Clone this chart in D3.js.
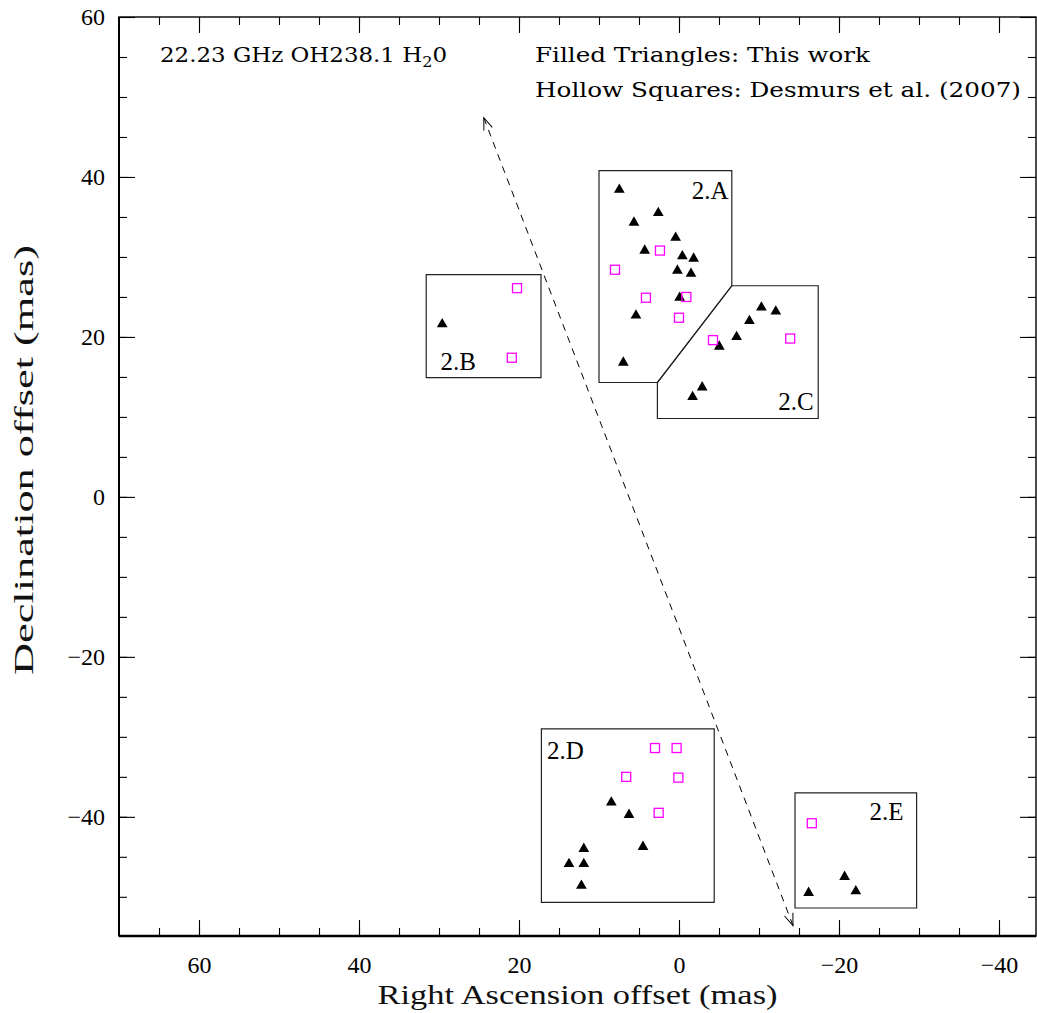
<!DOCTYPE html>
<html>
<head>
<meta charset="utf-8">
<script src="https://cdn.jsdelivr.net/npm/d3@7/dist/d3.min.js"></script>
<style>
  body { margin: 0; background: #fff; }
  svg { display: block; }
  .serif { font-family: "Liberation Serif", "Times New Roman", Times, serif; }
  .note { font-family: "DejaVu Serif", serif; }
</style>
</head>
<body>
<div id="chart"></div>
<script>
// maser spots, this work (filled triangles)
var thisWorkRA  = [7.46, 2.59, 5.63, 0.42, 4.29, -0.42, -1.83, 0.2, -1.5, -0.08, 5.38, 6.96,
                   -10.3, -12.1, -8.8, -7.2, -5.04, -2.9, -1.7,
                   29.6,
                   8.46, 6.25, 4.5, 11.9, 13.75, 11.9, 12.2,
                   -20.7, -16.2, -22.1];
var thisWorkDec = [38.4, 35.5, 34.3, 32.4, 30.8, 30.1, 29.8, 28.3, 27.9, 24.9, 22.7, 16.8,
                   23.7, 23.2, 22.0, 20.0, 18.8, 13.7, 12.5,
                   21.6,
                   -38.2, -39.75, -43.75, -44.0, -45.9, -45.9, -48.6,
                   -47.5, -49.5, -49.3];
// Desmurs et al. (2007) spots (hollow squares)
var desmursRA  = [2.38, 8.0, 4.13, -0.92, 0.0, -4.25, -13.9,
                  20.25, 20.9,
                  3.0, 0.3, 6.6, 0.08, 2.54,
                  -16.6];
var desmursDec = [30.8, 28.4, 24.9, 25.0, 22.4, 19.6, 19.8,
                  26.1, 17.4,
                  -31.4, -31.4, -35.0, -35.1, -39.5,
                  -40.8];

// region outlines (RA, Dec)
var regionNames = ["2.A", "2.B", "2.C", "2.D", "2.E"];
var regionShapes = [
  [[10, 40.8], [-6.6, 40.8], [-6.6, 26.4], [2.7, 14.3], [10, 14.3]],
  [[31.6, 27.8], [17.25, 27.8], [17.25, 14.9], [31.6, 14.9]],
  [[-6.6, 26.4], [-17.4, 26.4], [-17.4, 9.8], [2.7, 9.8], [2.7, 14.3]],
  [[17.2, -29.0], [-4.4, -29.0], [-4.4, -50.7], [17.2, -50.7]],
  [[-14.5, -37.0], [-29.7, -37.0], [-29.7, -51.4], [-14.5, -51.4]]
];
var regionLabelPos = [[-1.6, 37.2], [29.8, 15.9], [-12.4, 10.9], [16.5, -32.8], [-23.8, -40.4]];

// dashed double arrow (RA, Dec)
var arrowRA  = [24.4, -14.25];
var arrowDec = [47.4, -53.6];

var xMajor = [60, 40, 20, 0, -20, -40];
var yMajor = [60, 40, 20, 0, -20, -40];
var xMinor = d3.range(65, -45, -5);
var yMinor = d3.range(55, -55, -5);

var width = 1037, height = 1013;
var mLeft = 119, mRight = 1036, mTop = 17, mBottom = 936;

var svg = d3.select("#chart").append("svg")
  .attr("width", width)
  .attr("height", height);

var x = d3.scaleLinear().domain([70, -44.625]).range([mLeft, mRight]);
var y = d3.scaleLinear().domain([-54.9, 60]).range([mBottom, mTop]);

var fmt = function(d){ return d < 0 ? "\u2212" + Math.abs(d) : String(d); };

function addAxis(axis, tx, ty) {
  var g = svg.append("g").attr("transform", "translate(" + tx + "," + ty + ")").call(axis);
  g.select(".domain").remove();
  g.attr("font-family", null).attr("font-size", null);
  g.selectAll(".tick line").attr("stroke", "#000").attr("stroke-width", 1.1);
  return g;
}
// minor ticks on all sides
addAxis(d3.axisBottom(x).tickValues(xMinor).tickSize(-8).tickFormat(""), 0, mBottom);
addAxis(d3.axisTop(x).tickValues(xMinor).tickSize(-8).tickFormat(""), 0, mTop);
addAxis(d3.axisLeft(y).tickValues(yMinor).tickSize(-8).tickFormat(""), mLeft, 0);
addAxis(d3.axisRight(y).tickValues(yMinor).tickSize(-8).tickFormat(""), mRight, 0);

// major ticks
var gx = addAxis(d3.axisBottom(x).tickValues(xMajor).tickSize(-16).tickPadding(20).tickFormat(fmt), 0, mBottom);
addAxis(d3.axisTop(x).tickValues(xMajor).tickSize(-16).tickFormat(""), 0, mTop);
var gy = addAxis(d3.axisLeft(y).tickValues(yMajor).tickSize(-16).tickPadding(14).tickFormat(fmt), mLeft, 0);
addAxis(d3.axisRight(y).tickValues(yMajor).tickSize(-16).tickFormat(""), mRight, 0);

gx.selectAll(".tick text").attr("class", "serif").attr("font-size", 24).attr("fill", "#000");
gy.selectAll(".tick text").attr("class", "serif").attr("font-size", 24).attr("fill", "#000");

// frame
svg.append("rect")
  .attr("x", mLeft).attr("y", mTop)
  .attr("width", mRight - mLeft).attr("height", mBottom - mTop)
  .attr("fill", "none").attr("stroke", "#000").attr("stroke-width", 1.4);
svg.append("line")
  .attr("x1", mLeft).attr("x2", mRight).attr("y1", mBottom).attr("y2", mBottom)
  .attr("stroke", "#000").attr("stroke-width", 2.6);
svg.append("line")
  .attr("x1", mLeft).attr("x2", mLeft).attr("y1", mTop).attr("y2", mBottom)
  .attr("stroke", "#000").attr("stroke-width", 2);

// axis titles (tall, narrow lettering)
svg.append("text")
  .attr("class", "serif")
  .attr("x", (mLeft + mRight) / 2).attr("y", 1004)
  .attr("text-anchor", "middle")
  .attr("font-size", 27)
  .attr("fill", "#111")
  .attr("textLength", 400).attr("lengthAdjust", "spacingAndGlyphs")
  .text("Right Ascension offset (mas)");
svg.append("text")
  .attr("class", "serif")
  .attr("transform", "translate(33,460) rotate(-90)")
  .attr("text-anchor", "middle")
  .attr("font-size", 27)
  .attr("fill", "#111")
  .attr("textLength", 430).attr("lengthAdjust", "spacingAndGlyphs")
  .text("Declination offset (mas)");

// region outlines
var line = d3.line().x(function(d){ return x(d[0]); }).y(function(d){ return y(d[1]); });
svg.selectAll(".region")
  .data(regionShapes)
  .enter().append("path")
  .attr("class", "region")
  .attr("d", function(d){ return line(d) + "Z"; })
  .attr("fill", "none")
  .attr("stroke", "#222")
  .attr("stroke-width", 1.2);

svg.selectAll(".rlabel")
  .data(regionNames)
  .enter().append("text")
  .attr("class", "serif")
  .attr("x", function(d, i){ return x(regionLabelPos[i][0]); })
  .attr("y", function(d, i){ return y(regionLabelPos[i][1]); })
  .attr("font-size", 25)
  .text(function(d){ return d; });

// arrow
var defs = svg.append("defs");
defs.append("marker")
  .attr("id", "vhead")
  .attr("viewBox", "-13 -6 15 12")
  .attr("refX", 0).attr("refY", 0)
  .attr("markerWidth", 15).attr("markerHeight", 12)
  .attr("markerUnits", "userSpaceOnUse")
  .attr("orient", "auto-start-reverse")
  .append("path")
  .attr("d", "M-12,-4.5L0,0L-12,4.5")
  .attr("fill", "none").attr("stroke", "#000").attr("stroke-width", 1);

svg.append("line")
  .attr("x1", x(arrowRA[0])).attr("y1", y(arrowDec[0]))
  .attr("x2", x(arrowRA[1])).attr("y2", y(arrowDec[1]))
  .attr("stroke", "#000").attr("stroke-width", 1)
  .attr("stroke-dasharray", "7,6")
  .attr("marker-start", "url(#vhead)")
  .attr("marker-end", "url(#vhead)");

// points
var tri = d3.symbol().type(d3.symbolTriangle).size(50);
svg.selectAll(".tri")
  .data(thisWorkRA)
  .enter().append("path")
  .attr("class", "tri")
  .attr("transform", function(d, i){ return "translate(" + x(d) + "," + y(thisWorkDec[i]) + ")"; })
  .attr("d", tri)
  .attr("fill", "#000");

var sq = 9;
svg.selectAll(".sq")
  .data(desmursRA)
  .enter().append("rect")
  .attr("class", "sq")
  .attr("x", function(d){ return x(d) - sq / 2; })
  .attr("y", function(d, i){ return y(desmursDec[i]) - sq / 2; })
  .attr("width", sq).attr("height", sq)
  .attr("fill", "none")
  .attr("stroke", "#ff00ff")
  .attr("stroke-width", 1.3);

// annotations
var t1 = svg.append("text")
  .attr("class", "note")
  .attr("x", 160).attr("y", 62)
  .attr("font-size", 20)
  .attr("textLength", 287).attr("lengthAdjust", "spacingAndGlyphs");
t1.append("tspan").text("22.23 GHz OH238.1 H");
t1.append("tspan").attr("dy", 5).attr("font-size", 14).text("2");
t1.append("tspan").attr("dy", -5).text("0");

svg.append("text")
  .attr("class", "note")
  .attr("x", 535).attr("y", 62)
  .attr("font-size", 20)
  .attr("textLength", 335).attr("lengthAdjust", "spacingAndGlyphs")
  .text("Filled Triangles: This work");
svg.append("text")
  .attr("class", "note")
  .attr("x", 535).attr("y", 97)
  .attr("font-size", 20)
  .attr("textLength", 486).attr("lengthAdjust", "spacingAndGlyphs")
  .text("Hollow Squares: Desmurs et al. (2007)");
</script>
</body>
</html>
